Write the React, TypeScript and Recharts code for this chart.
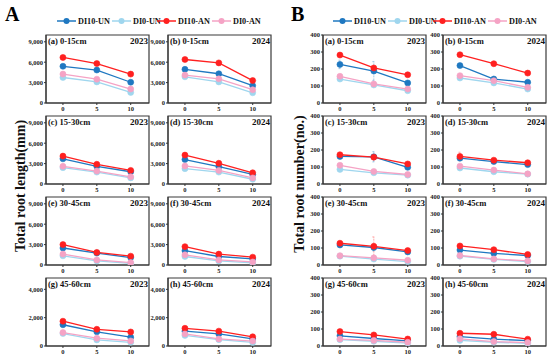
import React from "react";
import { LineChart, Line, XAxis, YAxis, ReferenceArea, ErrorBar } from "recharts";

const days = [0, 5, 10];
const seriesNames = ["DI10-UN", "DI0-UN", "DI10-AN", "DI0-AN"];
const colors = ["#1f78c1", "#9fd6ee", "#ff2020", "#f5a3c5"];
const titles = ["(a) 0-15cm", "(b) 0-15cm", "(c) 15-30cm", "(d) 15-30cm", "(e) 30-45cm", "(f) 30-45cm", "(g) 45-60cm", "(h) 45-60cm"];
const years = ["2023", "2024"];

// total root length (mm); rows: DI10-UN, DI0-UN, DI10-AN, DI0-AN
const lenA = [[5400, 4850, 3050], [3750, 3100, 1550], [6700, 5800, 4250], [4250, 3500, 2050]];
const lenB = [[4950, 4300, 2550], [3850, 3100, 1500], [6400, 5900, 3300], [4100, 3550, 1950]];
const lenC = [[3700, 2600, 1800], [2400, 1750, 900], [4100, 2900, 2000], [2600, 1900, 1050]];
const lenD = [[3600, 2550, 1400], [2250, 1750, 700], [4250, 3050, 1650], [2650, 2000, 900]];
const lenE = [[2500, 1750, 1100], [1350, 600, 250], [3000, 1850, 1300], [1600, 750, 350]];
const lenF = [[2100, 1250, 900], [1250, 600, 300], [2700, 1600, 1150], [1500, 750, 450]];
const lenG = [[1500, 1000, 620], [880, 430, 260], [1750, 1180, 990], [950, 550, 360]];
const lenH = [[1050, 850, 500], [750, 450, 250], [1250, 1050, 650], [850, 500, 350]];

// total root number (no.)
const numA = [[227, 188, 118], [141, 106, 72], [282, 206, 166], [157, 112, 82]];
const numB = [[220, 141, 122], [147, 118, 82], [284, 231, 176], [161, 131, 92]];
const numC = [[162, 160, 98], [86, 66, 52], [172, 158, 118], [110, 74, 56]];
const numD = [[152, 132, 114], [94, 72, 58], [162, 140, 125], [105, 82, 60]];
const numE = [[118, 103, 77], [52, 35, 20], [128, 110, 85], [55, 42, 28]];
const numF = [[88, 68, 56], [52, 33, 20], [112, 90, 62], [56, 36, 24]];
const numG = [[60, 44, 30], [37, 28, 17], [85, 65, 41], [41, 33, 22]];
const numH = [[55, 40, 32], [33, 22, 16], [75, 69, 40], [42, 26, 20]];

// error bars (only the visible ones)
const numErrA = [[25, 55, 8], [8, 8, 6], [8, 8, 8], [8, 8, 6]];
const numErrC = [[6, 30, 8], [6, 6, 4], [8, 15, 8], [6, 6, 4]];
const numErrD = [[8, 6, 6], [6, 6, 4], [25, 8, 8], [6, 6, 4]];
const numErrE = [[6, 20, 6], [4, 4, 4], [6, 55, 8], [4, 8, 4]];

const lenTicks = [0, 3000, 6000, 9000];
const lenTicksDeep = [0, 2000, 4000];
const numTicks = [0, 100, 200, 300, 400];

const font = "'Liberation Serif', 'Times New Roman', serif";
const colX = [[46, 168], [323, 443]];
const rowY = [35, 116, 197, 278];
const FW = 103;
const FH = 68;
const XD: [number, number] = [-2.5, 12.7];

function toRows(vals: number[][], errs?: number[][]) {
  return days.map((d, i) => {
    const r: any = { x: d };
    vals.forEach((s, k) => {
      r["s" + k] = s[i];
      r["e" + k] = errs ? errs[k][i] : 0;
    });
    return r;
  });
}

function Panel({ fx, fy, vals, errs, yMax, ticks, yw, title, year }: any) {
  const mt = 3;
  const mr = 3;
  const xh = 13;
  const data = toRows(vals, errs);
  const tickStyle = { fontSize: 6.5, fontWeight: 700, fontFamily: font, fill: "#222" };
  return (
    <div style={{ position: "absolute", left: fx - yw, top: fy - mt }}>
      <LineChart width={yw + FW + mr} height={mt + FH + xh} data={data} margin={{ top: mt, right: mr, left: 0, bottom: 0 }}>
        <XAxis
          dataKey="x"
          type="number"
          domain={XD}
          ticks={days}
          allowDataOverflow
          height={xh}
          tickSize={2}
          tickMargin={1}
          tick={tickStyle}
          stroke="#333"
          interval={0}
        />
        <YAxis
          type="number"
          domain={[0, yMax]}
          ticks={ticks}
          allowDataOverflow
          width={yw}
          tickSize={2}
          tickMargin={1}
          tick={tickStyle}
          stroke="#333"
          interval={0}
          tickFormatter={(v: number) => v.toLocaleString("en-US")}
        />
        <ReferenceArea x1={XD[0]} x2={XD[1]} y1={0} y2={yMax} fill="none" stroke="#3a3a3a" strokeWidth={1.2} ifOverflow="visible" />
        {seriesNames.map((n, k) => (
          <Line
            key={n}
            dataKey={"s" + k}
            name={n}
            stroke={colors[k]}
            strokeWidth={1.3}
            dot={{ r: 3, fill: colors[k], stroke: colors[k], strokeWidth: 0.6 }}
            isAnimationActive={false}
          >
            {errs && (
              <ErrorBar
                dataKey={"e" + k}
                width={1.5}
                strokeWidth={0.7}
                stroke={colors[k]}
                strokeOpacity={0.55}
                strokeDasharray="2 1"
                direction="y"
                isAnimationActive={false}
              />
            )}
          </Line>
        ))}
      </LineChart>
      <div style={{ position: "absolute", left: yw + 2, top: mt + 1, fontFamily: font, fontWeight: 700, fontSize: 8.5, lineHeight: "10px", color: "#111", whiteSpace: "nowrap" }}>
        {title}
      </div>
      <div style={{ position: "absolute", left: yw + FW - 22, width: 21, textAlign: "right", top: mt + 1, fontFamily: font, fontWeight: 700, fontSize: 9, lineHeight: "10px", color: "#111" }}>
        {year}
      </div>
    </div>
  );
}

function LegendRow({ left }: { left: number }) {
  const offs = [0, 55, 100, 155];
  return (
    <svg style={{ position: "absolute", left, top: 14 }} width={205} height={14}>
      {seriesNames.map((n, k) => (
        <g key={n}>
          <line x1={offs[k]} x2={offs[k] + 19} y1={7} y2={7} stroke={colors[k]} strokeWidth={1.5} />
          <circle cx={offs[k] + 9.5} cy={7} r={3} fill={colors[k]} />
          <text x={offs[k] + 21} y={10} fontFamily={font} fontWeight={700} fontSize={8.2} fill="#111">
            {n}
          </text>
        </g>
      ))}
    </svg>
  );
}

function YTitle({ cx, cy, text }: { cx: number; cy: number; text: string }) {
  return (
    <div
      style={{
        position: "absolute",
        left: cx - 100,
        top: cy - 8,
        width: 200,
        height: 16,
        lineHeight: "16px",
        textAlign: "center",
        transform: "rotate(-90deg)",
        fontFamily: font,
        fontWeight: 700,
        fontSize: 14,
        color: "#111",
      }}
    >
      {text}
    </div>
  );
}

export default function App() {
  const lens = [lenA, lenB, lenC, lenD, lenE, lenF, lenG, lenH];
  const nums = [numA, numB, numC, numD, numE, numF, numG, numH];
  const numErrs: any[] = [numErrA, undefined, numErrC, numErrD, numErrE, undefined, undefined, undefined];
  return (
    <div style={{ position: "absolute", left: 0, top: 0, width: 550, height: 357, background: "#fff", overflow: "hidden" }}>
      <div style={{ position: "absolute", left: 5, top: 3, fontFamily: font, fontWeight: 700, fontSize: 20 }}>A</div>
      <div style={{ position: "absolute", left: 291, top: 3, fontFamily: font, fontWeight: 700, fontSize: 20 }}>B</div>
      <LegendRow left={57} />
      <LegendRow left={333} />
      <YTitle cx={21} cy={186} text="Total root length(mm)" />
      <YTitle cx={300} cy={184} text="Total root number(no.)" />
      {lens.map((v, i) => {
        const r = Math.floor(i / 2);
        const c = i % 2;
        const deep = r === 3;
        return (
          <Panel
            key={"l" + i}
            fx={colX[0][c]}
            fy={rowY[r]}
            vals={v}
            yMax={deep ? 4800 : 10000}
            ticks={deep ? lenTicksDeep : lenTicks}
            yw={25}
            title={titles[i]}
            year={years[c]}
          />
        );
      })}
      {nums.map((v, i) => {
        const r = Math.floor(i / 2);
        const c = i % 2;
        return (
          <Panel
            key={"n" + i}
            fx={colX[1][c]}
            fy={rowY[r]}
            vals={v}
            errs={numErrs[i]}
            yMax={400}
            ticks={numTicks}
            yw={18}
            title={titles[i]}
            year={years[c]}
          />
        );
      })}
    </div>
  );
}
